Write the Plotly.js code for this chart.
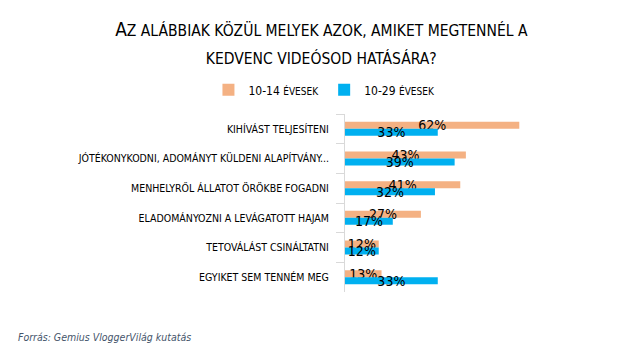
<!DOCTYPE html>
<html>
<head>
<meta charset="utf-8">
<script src="https://cdn.plot.ly/plotly-3.0.1.min.js"></script>
<style>body{margin:0;padding:0;background:#fff;} #chart{width:630px;height:358px;}</style>
</head>
<body>
<div id="chart"></div>
<script>
const categories = [
  "KIHÍVÁST TELJESÍTENI",
  "JÓTÉKONYKODNI, ADOMÁNYT KÜLDENI ALAPÍTVÁNY...",
  "MENHELYRŐL ÁLLATOT ÖRÖKBE FOGADNI",
  "ELADOMÁNYOZNI A LEVÁGATOTT HAJAM",
  "TETOVÁLÁST CSINÁLTATNI",
  "EGYIKET SEM TENNÉM MEG"
];
const values1014 = [62, 43, 41, 27, 12, 13];
const values1029 = [33, 39, 32, 17, 12, 33];
const seriesNames = ["10-14 <span style='font-size:10px'>ÉVESEK</span>", "10-29 <span style='font-size:10px'>ÉVESEK</span>"];

const FONT = "'Liberation Sans Narrow', 'DejaVu Sans Condensed', 'Liberation Sans', sans-serif";

function barTrace(vals, name, color) {
  return {
    type: 'bar', orientation: 'h',
    y: categories, x: vals, name: name,
    marker: {color: color},
    text: vals.map(v => v + '%'),
    textposition: 'inside', insidetextanchor: 'middle',
    constraintext: 'none', textangle: 0,
    textfont: {family: FONT, size: 14, color: '#000'},
    hoverinfo: 'none'
  };
}

const data = [
  barTrace(values1014, seriesNames[0], '#F4B183'),
  barTrace(values1029, seriesNames[1], '#00B0F0')
];

const layout = {
  width: 630, height: 358,
  margin: {l: 345, r: 32, t: 114, b: 66},
  paper_bgcolor: '#fff', plot_bgcolor: '#fff',
  font: {family: FONT, color: '#000'},
  barmode: 'group', bargap: 0.53, bargroupgap: 0,
  title: {
    text: "<span style='font-size:19px'>A</span><span style='font-size:15.5px'>Z ALÁBBIAK KÖZÜL MELYEK AZOK, AMIKET MEGTENNÉL A</span><br><span style='font-size:15.5px'>KEDVENC VIDEÓSOD HATÁSÁRA?</span>",
    font: {family: FONT, size: 21.5, color: '#000'},
    x: 0.51, xanchor: 'center', xref: 'container',
    y: 0.9, yanchor: 'top', yref: 'container'
  },
  legend: {
    orientation: 'h', xref: 'container', yref: 'container',
    x: 0.515, xanchor: 'center', y: 0.749, yanchor: 'middle',
    font: {family: FONT, size: 12, color: '#000'},
    itemwidth: 30, traceorder: 'normal'
  },
  xaxis: {
    range: [0, 90], showgrid: false, zeroline: false,
    showticklabels: false, ticks: '', showline: false, fixedrange: true
  },
  yaxis: {
    type: 'category', autorange: 'reversed',
    showline: true, linecolor: '#d9d9d9', linewidth: 1,
    ticks: 'outside', tickson: 'boundaries', ticklen: 8, tickcolor: '#d9d9d9',
    ticklabelstandoff: 13,
    tickfont: {family: FONT, size: 10.5, color: '#000'},
    showgrid: false, fixedrange: true
  },
  annotations: [{
    text: "Forrás: Gemius VloggerVilág kutatás",
    xref: 'paper', yref: 'paper', x: (16 - 345) / 253, y: (292 - 337) / 178,
    xanchor: 'left', yanchor: 'middle', showarrow: false,
    font: {family: FONT, size: 10.5, color: '#44546A', style: 'italic'}
  }],
  showlegend: true
};

Plotly.newPlot('chart', data, layout, {displayModeBar: false, staticPlot: true});
</script>
</body>
</html>
